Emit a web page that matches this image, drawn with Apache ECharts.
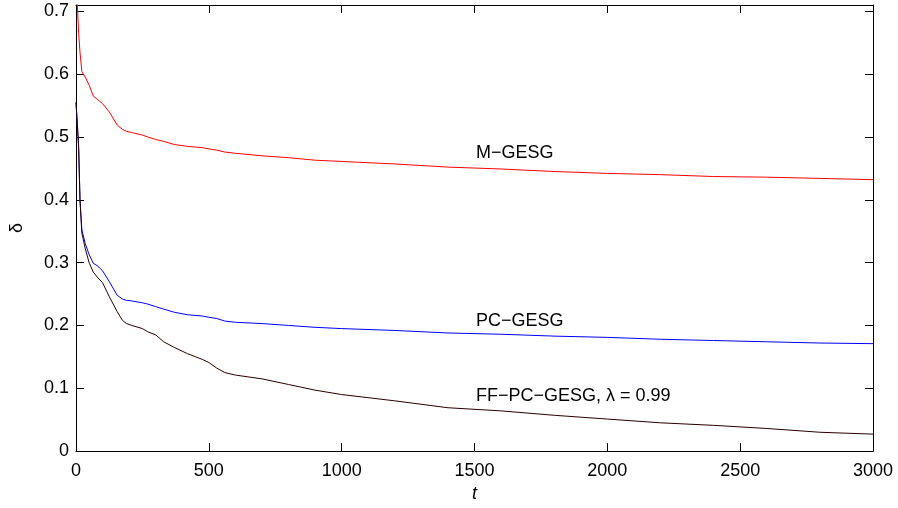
<!DOCTYPE html>
<html>
<head>
<meta charset="utf-8">
<script src="https://cdn.jsdelivr.net/npm/echarts@6/dist/echarts.min.js"></script>
<style>
  html, body { margin: 0; padding: 0; background: #fff; }
  #chart { width: 898px; height: 508px; }
</style>
</head>
<body>
<div id="chart"></div>
<script>
// sample times (t) shared by the three curves
const tValues = [0, 5, 10, 15, 22, 35, 50, 65, 80, 100, 125, 155, 175, 190, 210, 250, 270, 300, 330, 370, 420, 475, 500, 530, 560, 600, 700, 800, 900, 1000, 1200, 1400, 1600, 1800, 2000, 2200, 2400, 2600, 2800, 3000];

const mGesg = [0.78, 0.71, 0.665, 0.635, 0.604, 0.595, 0.582, 0.565, 0.56, 0.553, 0.54, 0.519, 0.512, 0.509, 0.507, 0.503, 0.5, 0.496, 0.493, 0.488, 0.485, 0.483, 0.481, 0.479, 0.476, 0.474, 0.47, 0.467, 0.463, 0.461, 0.457, 0.452, 0.449, 0.445, 0.442, 0.44, 0.437, 0.436, 0.434, 0.432];

const pcGesg = [0.555, 0.52, 0.485, 0.4, 0.352, 0.33, 0.312, 0.299, 0.295, 0.287, 0.27, 0.248, 0.242, 0.24, 0.239, 0.236, 0.234, 0.23, 0.226, 0.221, 0.217, 0.215, 0.213, 0.211, 0.207, 0.205, 0.203, 0.2, 0.197, 0.195, 0.192, 0.188, 0.186, 0.183, 0.181, 0.178, 0.176, 0.174, 0.172, 0.171];

const ffPcGesg = [0.555, 0.52, 0.48, 0.4, 0.347, 0.322, 0.299, 0.285, 0.277, 0.268, 0.246, 0.222, 0.208, 0.203, 0.2, 0.195, 0.19, 0.185, 0.174, 0.165, 0.155, 0.146, 0.141, 0.132, 0.125, 0.121, 0.115, 0.106, 0.097, 0.09, 0.08, 0.069, 0.064, 0.057, 0.051, 0.045, 0.041, 0.036, 0.03, 0.027];

const seriesNames = ["M\u2212GESG", "PC\u2212GESG", "FF\u2212PC\u2212GESG, \u03bb = 0.99"];

const font = "'Liberation Sans', Arial, Helvetica, sans-serif";
const pair = (ys) => tValues.map((t, i) => [t, ys[i]]);

const chart = echarts.init(document.getElementById("chart"), null, { renderer: "canvas" });

const tickStyle = { show: true, inside: true, length: 8, lineStyle: { color: "#000", width: 1 } };
const lineAxis = { show: true, onZero: false, lineStyle: { color: "#000", width: 1 } };

const mkLine = (name, ys, color) => ({
  name: name,
  type: "line",
  data: pair(ys),
  showSymbol: false,
  symbol: "none",
  smooth: false,
  clip: true,
  lineStyle: { color: color, width: 1 },
  itemStyle: { color: color },
  animation: false,
});

chart.setOption({
  animation: false,
  backgroundColor: "#fff",
  grid: { left: 74, right: 25, top: 5, bottom: 54 },
  xAxis: [
    {
      type: "value",
      min: 0,
      max: 3000,
      interval: 500,
      name: "t",
      nameLocation: "middle",
      nameGap: 33,
      nameTextStyle: { fontFamily: font, fontSize: 18, fontStyle: "italic", color: "#000" },
      axisLine: lineAxis,
      axisTick: tickStyle,
      axisLabel: { fontFamily: font, fontSize: 18, color: "#000", margin: 11, formatter: (v) => String(v) },
      splitLine: { show: false },
    },
    {
      type: "value",
      position: "top",
      min: 0,
      max: 3000,
      interval: 500,
      axisLine: lineAxis,
      axisTick: tickStyle,
      axisLabel: { show: false },
      splitLine: { show: false },
    },
  ],
  yAxis: [
    {
      type: "value",
      min: 0,
      max: 0.71,
      interval: 0.1,
      name: "\u03b4",
      nameLocation: "middle",
      nameGap: 50,
      nameTextStyle: { fontFamily: font, fontSize: 18, color: "#000" },
      axisLine: lineAxis,
      axisTick: tickStyle,
      axisLabel: { fontFamily: font, fontSize: 18, color: "#000", margin: 7, showMaxLabel: false },
      splitLine: { show: false },
    },
    {
      type: "value",
      position: "right",
      min: 0,
      max: 0.71,
      interval: 0.1,
      axisLine: lineAxis,
      axisTick: tickStyle,
      axisLabel: { show: false },
      splitLine: { show: false },
    },
  ],
  series: [
    mkLine(seriesNames[0], mGesg, "#ff0000"),
    mkLine(seriesNames[1], pcGesg, "#0000ff"),
    mkLine(seriesNames[2], ffPcGesg, "#2a0000"),
  ],
  graphic: [
    { type: "text", left: 476, top: 144, style: { text: seriesNames[0], font: "18px " + font, fill: "#000" } },
    { type: "text", left: 476, top: 312, style: { text: seriesNames[1], font: "18px " + font, fill: "#000" } },
    { type: "text", left: 476, top: 387, style: { text: seriesNames[2], font: "18px " + font, fill: "#000" } },
  ],
});
</script>
</body>
</html>
